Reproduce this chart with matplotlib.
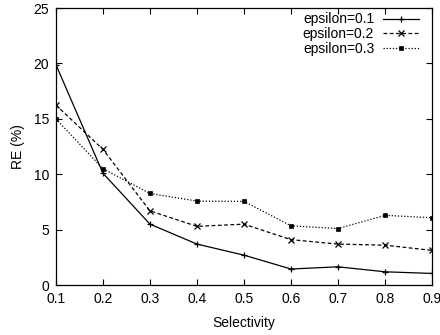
import matplotlib
matplotlib.use("Agg")
import matplotlib.pyplot as plt

plt.rcParams['font.family'] = ['Liberation Sans', 'DejaVu Sans']

selectivity = [0.1, 0.2, 0.3, 0.4, 0.5, 0.6, 0.7, 0.8, 0.9]
eps01 = [19.9, 10.1, 5.5, 3.7, 2.7, 1.45, 1.65, 1.2, 1.05]
eps02 = [16.25, 12.25, 6.7, 5.3, 5.5, 4.1, 3.7, 3.6, 3.13]
eps03 = [15.0, 10.5, 8.27, 7.58, 7.55, 5.35, 5.1, 6.29, 6.08]
labels = ['epsilon=0.1', 'epsilon=0.2', 'epsilon=0.3']
xticks = [0.1, 0.2, 0.3, 0.4, 0.5, 0.6, 0.7, 0.8, 0.9]
yticks = [0, 5, 10, 15, 20, 25]

fig = plt.figure(figsize=(4.4, 3.35), dpi=100)
ax = fig.add_axes([0.127, 0.149, 0.855, 0.827])

ax.plot(selectivity, eps01, color='black', lw=0.9, ls='-', marker='+', ms=5, mew=0.9, label=labels[0])
ax.plot(selectivity, eps02, color='black', lw=0.9, ls=(0, (3, 2)), marker='x', ms=4, mew=0.9, label=labels[1])
ax.plot(selectivity, eps03, color='black', lw=0.9, ls=(0, (1, 1.5)), marker='s', ms=3, mew=0.5, label=labels[2])

ax.set_xlim(0.1, 0.9)
ax.set_ylim(0, 25)
ax.set_xticks(xticks)
ax.set_xticklabels([f'{v:.1f}' for v in xticks])
ax.set_yticks(yticks)
ax.tick_params(direction='in', top=True, right=True, length=4, width=0.8, labelsize=10, pad=5)
for s in ax.spines.values():
    s.set_linewidth(0.9)
ax.set_xlabel('Selectivity', fontsize=10, labelpad=7)
ax.set_ylabel('RE (%)', fontsize=10, labelpad=6)

ax.legend(loc='upper right', bbox_to_anchor=(0.979, 1.004), frameon=False, markerfirst=False, fontsize=10,
          handlelength=2.6, labelspacing=0.05, borderaxespad=0.0, handletextpad=0.6)

fig.savefig('out.png', dpi=100)
